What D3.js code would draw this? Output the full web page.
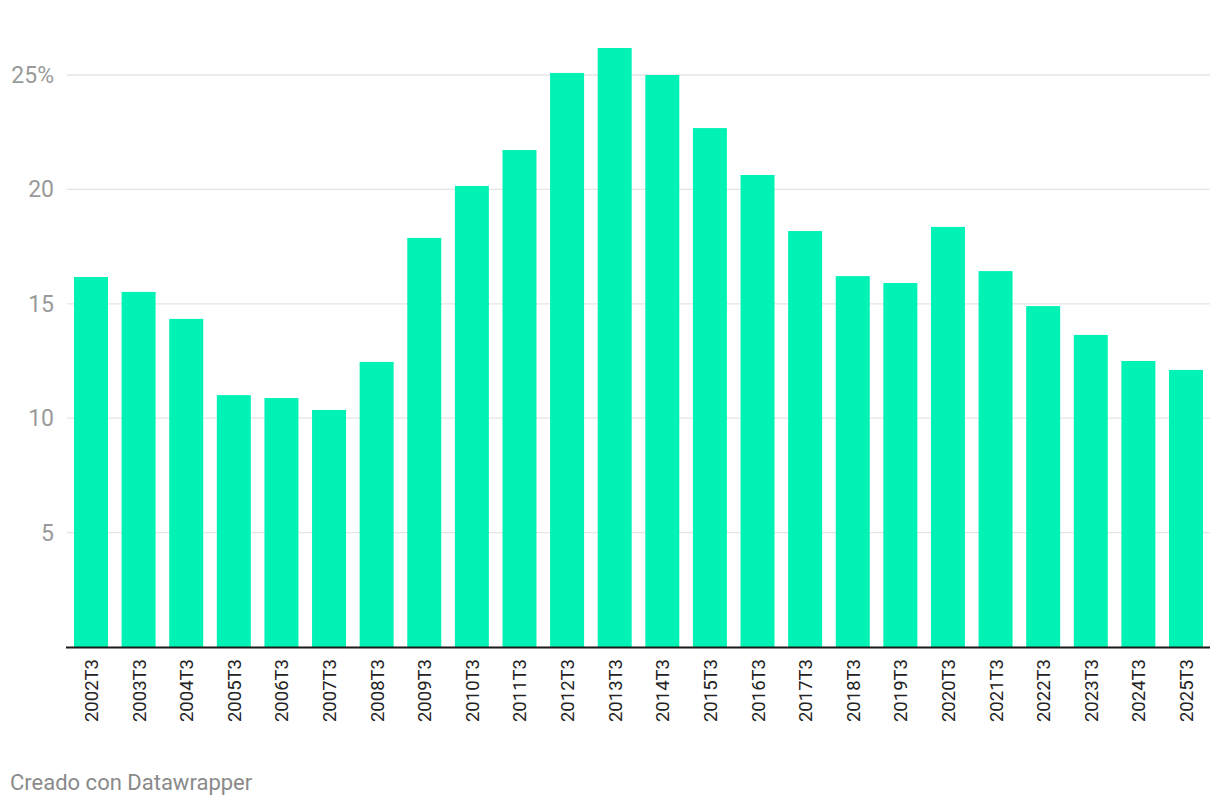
<!DOCTYPE html>
<html>
<head>
<meta charset="utf-8">
<script src="https://cdn.jsdelivr.net/npm/d3@7"></script>
<style>
  body { margin: 0; background: #fff; font-family: Roboto, "Noto Sans", sans-serif; }
</style>
</head>
<body>
<div id="chart"></div>
<script>
var periods = ["2002T3","2003T3","2004T3","2005T3","2006T3","2007T3","2008T3","2009T3","2010T3","2011T3","2012T3","2013T3","2014T3","2015T3","2016T3","2017T3","2018T3","2019T3","2020T3","2021T3","2022T3","2023T3","2024T3","2025T3"];
var rates = [16.17,15.52,14.34,11.01,10.88,10.36,12.46,17.88,20.15,21.72,25.09,26.18,25.0,22.68,20.63,18.18,16.21,15.91,18.36,16.43,14.9,13.64,12.5,12.11];
var yTicks = [5,10,15,20,25];

var width = 1220, height = 806;
var svg = d3.select("#chart").append("svg").attr("width", width).attr("height", height)
    .style("font-family", "Roboto, sans-serif");

var x = d3.scaleBand().domain(periods).range([74, 1203]).paddingInner(0.286).paddingOuter(0);
var y = d3.scaleLinear().domain([0, 25]).range([647, 75]);

// grid
svg.append("g").selectAll("line").data(yTicks).enter().append("line")
    .attr("x1", 67).attr("x2", 1210)
    .attr("y1", function (d) { return y(d); })
    .attr("y2", function (d) { return y(d); })
    .attr("stroke", "#e5e5e5").attr("stroke-width", 1.3);

svg.append("g").selectAll("text").data(yTicks).enter().append("text")
    .attr("x", 54)
    .attr("y", function (d) { return y(d) + 8; })
    .attr("text-anchor", "end")
    .attr("fill", "#9a9a9a")
    .style("font-size", "23px")
    .text(function (d) { return d === 25 ? d + "%" : d; });

// bars
svg.append("g").selectAll("rect").data(periods).enter().append("rect")
    .attr("x", function (d) { return x(d); })
    .attr("width", x.bandwidth())
    .attr("y", function (d, i) { return y(rates[i]); })
    .attr("height", function (d, i) { return y(0) - y(rates[i]); })
    .attr("fill", "#01f2b5");

// baseline
svg.append("line").attr("x1", 66).attr("x2", 1210)
    .attr("y1", y(0) + 0.5).attr("y2", y(0) + 0.5)
    .attr("stroke", "#1a1a1a").attr("stroke-width", 2);

// x labels, rotated
svg.append("g").selectAll("text").data(periods).enter().append("text")
    .attr("transform", function (d) {
        return "translate(" + (x(d) + x.bandwidth() / 2 + 7) + ",659) rotate(-90)";
    })
    .attr("text-anchor", "end")
    .attr("fill", "#222")
    .style("font-size", "18.5px")
    .text(function (d) { return d; });

svg.append("text").attr("x", 10).attr("y", 790)
    .attr("fill", "#8a8a8a").style("font-size", "22px")
    .text("Creado con Datawrapper");
</script>
</body>
</html>
